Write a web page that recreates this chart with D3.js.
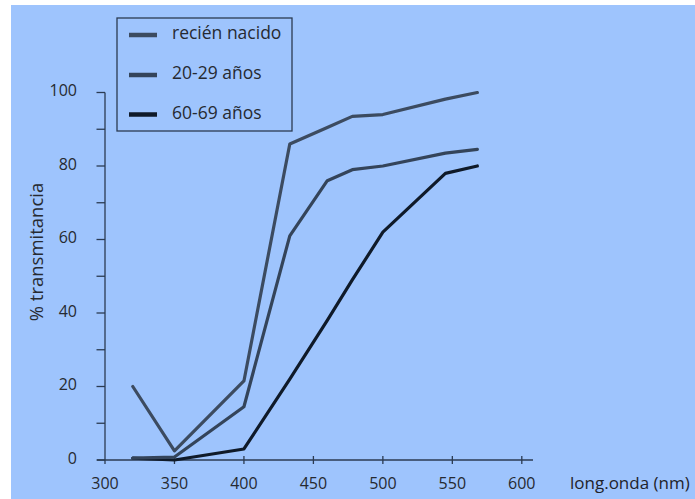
<!DOCTYPE html>
<html><head><meta charset="utf-8">
<script src="https://cdn.jsdelivr.net/npm/d3@7"></script>
<style>html,body{margin:0;padding:0;background:#fff;}svg{display:block;}</style>
</head><body>
<script>
const wavelengths = [320, 350, 400, 433, 460, 478, 500, 545, 568];
const recienNacido = [20, 2.5, 21.5, 86, 90.5, 93.5, 94, 98.2, 100];
const anos20_29 = [0.5, 0.8, 14.5, 61, 76, 79, 80, 83.5, 84.5];
const anos60_69 = [0.5, 0, 3, 22, 38, 49, 62, 78, 80];
const seriesNames = ["recién nacido", "20-29 años", "60-69 años"];
const xTicks = [300, 350, 400, 450, 500, 550, 600];
const yTicks = [0, 10, 20, 30, 40, 50, 60, 70, 80, 90, 100];
const yLabels = [0, 20, 40, 60, 80, 100];

const W = 695, H = 499;
const colors = ["#3c4b60", "#34445a", "#0f1a29"];
const axisColor = "#2b3b52";
const textColor = "#262a31";
const font = "'Open Sans', sans-serif";

const svg = d3.select("body").append("svg").attr("width", W).attr("height", H);
svg.append("rect").attr("x", 11).attr("y", 5).attr("width", W - 11).attr("height", H - 5).attr("fill", "#9ec4fd");

const x = d3.scaleLinear().domain([300, 600]).range([105, 521.8]);
const y = d3.scaleLinear().domain([0, 100]).range([460, 92.5]);

// x axis
const gx = svg.append("g");
gx.append("line").attr("x1", 97).attr("x2", 533).attr("y1", y(0)).attr("y2", y(0))
  .attr("stroke", axisColor).attr("stroke-width", 1.3);
gx.selectAll("line.t").data(xTicks.slice(1)).join("line").attr("class", "t")
  .attr("x1", d => x(d)).attr("x2", d => x(d)).attr("y1", y(0) - 4).attr("y2", y(0) + 4)
  .attr("stroke", axisColor).attr("stroke-width", 1.3);
gx.selectAll("text").data(xTicks).join("text")
  .attr("x", d => x(d)).attr("y", 489).attr("text-anchor", "middle")
  .attr("font-family", font).attr("font-size", 16).attr("fill", textColor).text(d => d);

// y axis
const gy = svg.append("g");
gy.append("line").attr("x1", x(300)).attr("x2", x(300)).attr("y1", y(100)).attr("y2", y(0) + 4)
  .attr("stroke", axisColor).attr("stroke-width", 1.3);
gy.selectAll("line.t").data(yTicks).join("line").attr("class", "t")
  .attr("x1", x(300) - 8.5).attr("x2", x(300)).attr("y1", d => y(d)).attr("y2", d => y(d))
  .attr("stroke", axisColor).attr("stroke-width", 1.3);
gy.selectAll("text").data(yLabels).join("text")
  .attr("x", 77).attr("y", d => y(d) - 2).attr("dy", "0.35em").attr("text-anchor", "end")
  .attr("font-family", font).attr("font-size", 16).attr("fill", textColor).text(d => d);

// axis titles
svg.append("text").attr("transform", "translate(43,252) rotate(-90)").attr("text-anchor", "middle")
  .attr("font-family", font).attr("font-size", 18.5).attr("fill", textColor).text("% transmitancia");
svg.append("text").attr("x", 570).attr("y", 489)
  .attr("font-family", font).attr("font-size", 17).attr("fill", "#1e232b").text("long.onda (nm)");

// lines
const line = d3.line().x((d, i) => x(wavelengths[i])).y(d => y(d));
const all = [recienNacido, anos20_29, anos60_69];
[2, 1, 0].forEach(k => {
  svg.append("path").attr("d", line(all[k])).attr("fill", "none")
    .attr("stroke", colors[k]).attr("stroke-width", 3.2).attr("stroke-linejoin", "round").attr("stroke-linecap", "round");
});

// legend
const lg = svg.append("g");
lg.append("rect").attr("x", 117).attr("y", 18).attr("width", 175).attr("height", 113)
  .attr("fill", "none").attr("stroke", axisColor).attr("stroke-width", 1.3);
const ly = [35, 75, 114.5];
seriesNames.forEach((n, i) => {
  lg.append("line").attr("x1", 129).attr("x2", 157).attr("y1", ly[i]).attr("y2", ly[i])
    .attr("stroke", colors[i]).attr("stroke-width", 4.5);
  lg.append("text").attr("x", 172).attr("y", ly[i] - 2).attr("dy", "0.35em")
    .attr("font-family", font).attr("font-size", 17.5).attr("fill", textColor).text(n);
});
</script>
</body></html>
